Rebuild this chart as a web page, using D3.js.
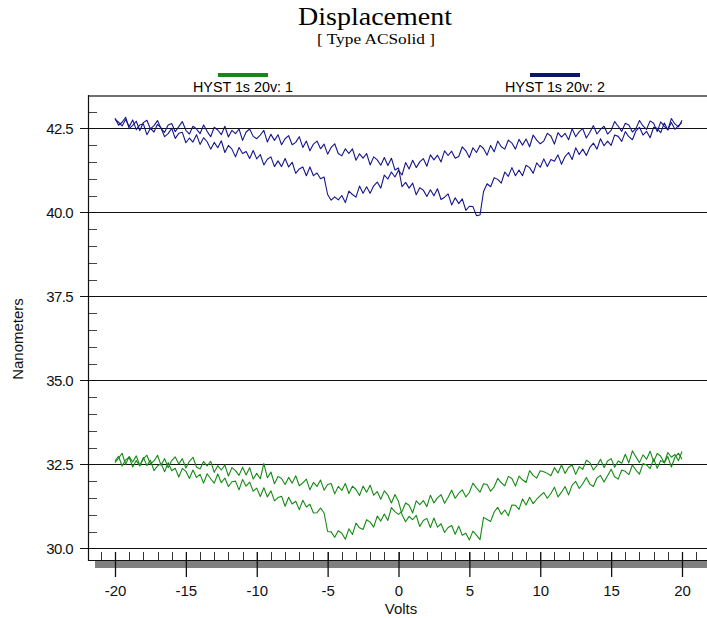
<!DOCTYPE html>
<html><head><meta charset="utf-8">
<script src="https://cdn.jsdelivr.net/npm/d3@7"></script>
<style>body{margin:0;background:#fff}svg{display:block}</style>
</head><body>
<svg id="c" width="707" height="618"></svg>
<script>
// ---------- DATA ----------
const volts = [
-20,-19.75,-19.5,-19.25,-19,-18.75,-18.5,-18.25,-18,-17.75,-17.5,-17.25,-17,-16.75,-16.5,-16.25,
-16,-15.75,-15.5,-15.25,-15,-14.75,-14.5,-14.25,-14,-13.75,-13.5,-13.25,-13,-12.75,-12.5,-12.25,
-12,-11.75,-11.5,-11.25,-11,-10.75,-10.5,-10.25,-10,-9.75,-9.5,-9.25,-9,-8.75,-8.5,-8.25,
-8,-7.75,-7.5,-7.25,-7,-6.75,-6.5,-6.25,-6,-5.75,-5.5,-5.25,-5,-4.75,-4.5,-4.25,
-4,-3.75,-3.5,-3.25,-3,-2.75,-2.5,-2.25,-2,-1.75,-1.5,-1.25,-1,-0.75,-0.5,-0.25,
0,0.25,0.5,0.75,1,1.25,1.5,1.75,2,2.25,2.5,2.75,3,3.25,3.5,3.75,
4,4.25,4.5,4.75,5,5.25,5.5,5.75,6,6.25,6.5,6.75,7,7.25,7.5,7.75,
8,8.25,8.5,8.75,9,9.25,9.5,9.75,10,10.25,10.5,10.75,11,11.25,11.5,11.75,
12,12.25,12.5,12.75,13,13.25,13.5,13.75,14,14.25,14.5,14.75,15,15.25,15.5,15.75,
16,16.25,16.5,16.75,17,17.25,17.5,17.75,18,18.25,18.5,18.75,19,19.25,19.5,19.75,20];

// HYST 1s 20v: 1 (green) - branch with dip near +5.5 V
const hyst1A = [
32.55,32.68,32.83,32.50,32.73,32.57,32.75,32.47,32.66,32.77,32.51,32.60,32.77,32.47,32.67,32.40,
32.61,32.72,32.51,32.67,32.39,32.59,32.71,32.42,32.36,32.58,32.45,32.59,32.26,32.46,32.33,32.48,
32.15,32.40,32.31,32.17,32.41,32.18,32.40,32.06,32.23,32.07,32.52,32.10,32.27,31.92,32.14,32.08,
31.90,32.11,31.94,32.16,31.86,31.95,32.06,31.74,31.96,31.84,32.03,31.73,31.90,31.93,31.62,31.84,
31.72,31.93,31.63,31.85,31.75,31.57,31.85,31.67,31.88,31.58,31.69,31.46,31.71,31.58,31.35,31.60,
31.39,31.00,30.79,30.95,30.85,30.98,30.65,30.83,30.89,30.62,30.90,30.63,30.73,30.47,30.62,30.68,
30.42,30.66,30.39,30.45,30.25,30.51,30.39,30.26,30.92,30.86,30.80,31.08,31.22,31.01,31.14,30.97,
31.29,31.28,31.16,31.47,31.29,31.52,31.33,31.46,31.57,31.66,31.49,31.63,31.82,31.53,31.67,31.84,
31.59,31.88,31.99,31.78,31.92,32.11,31.91,31.84,32.09,32.17,31.97,32.16,32.35,32.13,32.06,32.33,
32.29,32.19,32.48,32.33,32.21,32.52,32.48,32.37,32.66,32.38,32.61,32.55,32.73,32.42,32.71,32.83,32.65];

// HYST 1s 20v: 1 (green) - branch with dip near -4.5 V
const hyst1B = [
32.60,32.74,32.45,32.63,32.71,32.42,32.61,32.45,32.70,32.46,32.62,32.31,32.45,32.52,32.28,32.55,
32.31,32.38,32.12,32.38,32.29,32.08,32.33,32.11,32.20,31.94,32.22,32.07,31.94,32.21,31.95,32.09,
31.84,31.98,32.00,31.74,32.05,31.85,31.97,31.70,31.79,31.54,31.80,31.53,31.71,31.41,31.51,31.55,
31.25,31.52,31.32,31.40,31.15,31.43,31.23,31.31,31.05,31.06,31.20,31.05,30.50,30.49,30.33,30.52,
30.45,30.27,30.58,30.41,30.75,30.61,30.56,30.85,30.78,30.63,30.96,30.81,31.02,30.83,31.21,31.09,
31.01,31.10,31.35,31.28,31.05,31.41,31.30,31.42,31.24,31.58,31.35,31.50,31.60,31.34,31.52,31.73,
31.49,31.64,31.74,31.53,31.66,31.94,31.80,31.67,31.92,31.90,31.70,31.83,32.08,31.95,31.86,32.14,
32.08,31.85,32.15,32.04,31.96,32.31,32.17,32.09,32.31,32.28,32.23,32.16,32.40,32.24,32.48,32.23,
32.41,32.48,32.20,32.43,32.35,32.62,32.55,32.33,32.46,32.65,32.40,32.60,32.67,32.41,32.60,32.53,
32.80,32.54,32.90,32.72,32.55,32.78,32.65,32.89,32.58,32.82,32.74,32.54,32.85,32.71,32.79,32.61,32.88];

// HYST 1s 20v: 2 (blue) - branch with dip near +5.5 V
const hyst2A = [
42.80,42.59,42.68,42.83,42.49,42.59,42.71,42.43,42.67,42.74,42.48,42.58,42.73,42.49,42.38,42.60,
42.64,42.40,42.55,42.70,42.44,42.33,42.56,42.48,42.34,42.60,42.41,42.25,42.53,42.45,42.31,42.56,
42.24,42.44,42.34,42.48,42.14,42.39,42.48,42.26,42.19,42.30,42.44,42.09,42.32,42.14,42.31,42.01,
42.19,42.28,42.01,42.08,42.25,41.93,42.12,41.83,42.03,42.12,41.89,42.03,41.73,41.93,42.04,41.75,
41.68,41.89,41.75,41.89,41.55,41.74,41.61,41.75,41.41,41.65,41.56,41.40,41.63,41.39,41.61,41.26,
41.32,40.76,40.89,40.72,40.87,40.52,40.73,40.66,40.47,40.67,40.49,40.70,40.38,40.45,40.55,40.22,
40.43,40.26,40.40,40.06,40.18,40.17,39.90,39.92,40.62,40.85,40.76,41.03,40.98,40.87,41.20,41.07,
41.33,41.09,41.26,41.09,41.40,41.33,41.16,41.47,41.34,41.59,41.36,41.57,41.52,41.71,41.43,41.66,
41.78,41.57,41.92,41.72,41.88,41.69,41.93,42.06,41.88,42.19,41.98,42.12,41.99,42.30,42.26,42.11,
42.40,42.25,42.16,42.42,42.53,42.30,42.41,42.22,42.53,42.50,42.37,42.66,42.46,42.67,42.47,42.58,42.67];

// HYST 1s 20v: 2 (blue) - branch with dip near -4.5 V
const hyst2B = [
42.77,42.68,42.57,42.76,42.55,42.75,42.46,42.60,42.63,42.31,42.50,42.39,42.62,42.51,42.25,42.34,
42.50,42.20,42.35,42.38,42.07,42.21,42.09,42.31,42.02,42.22,42.10,41.88,42.08,41.92,42.13,41.78,
41.99,41.88,41.65,41.93,41.75,41.81,41.60,41.84,41.59,41.72,41.41,41.58,41.65,41.36,41.53,41.36,
41.60,41.35,41.49,41.16,41.29,41.35,41.09,41.35,41.09,41.17,41.00,41.05,40.53,40.36,40.46,40.37,
40.50,40.29,40.63,40.53,40.45,40.78,40.57,40.76,40.57,40.79,40.90,40.72,41.11,40.99,41.20,41.05,
41.25,41.11,41.48,41.29,41.55,41.33,41.50,41.60,41.37,41.71,41.56,41.70,41.50,41.83,41.69,41.82,
41.61,41.66,41.95,41.83,41.63,41.92,41.78,41.99,41.90,41.70,41.99,41.80,42.12,41.95,41.88,42.15,
42.06,41.88,42.17,42.00,42.18,41.95,42.30,42.15,42.04,42.12,42.35,42.27,42.03,42.37,42.24,42.35,
42.16,42.49,42.25,42.40,42.49,42.21,42.38,42.58,42.33,42.47,42.56,42.33,42.44,42.70,42.56,42.41,
42.65,42.60,42.39,42.49,42.73,42.57,42.47,42.72,42.65,42.40,42.69,42.56,42.45,42.79,42.63,42.54,42.74];

const seriesNames = ["HYST 1s 20v: 1", "HYST 1s 20v: 2"];
const xMajorTicks = [-20,-15,-10,-5,0,5,10,15,20];
const xMinorTicks = [-21,-20,-19,-18,-17,-16,-15,-14,-13,-12,-11,-10,-9,-8,-7,-6,-5,-4,-3,-2,-1,0,1,2,3,4,5,6,7,8,9,10,11,12,13,14,15,16,17,18,19,20,21];
const yMajorTicks = [30.0,32.5,35.0,37.5,40.0,42.5];
const yMinorTicks = [30.5,31,31.5,32,33,33.5,34,34.5,35.5,36,36.5,37,38,38.5,39,39.5,40.5,41,41.5,42,43];

// ---------- CHART ----------
const pL = 88, pR = 707, pT = 96, pB = 560;
const svg = d3.select("#c");
const colors = ["#148a14", "#16168a"];
const legendColors = ["#138a13", "#0c1470"];
const sans = "'Liberation Sans', Arial, sans-serif";
const serif = "'Liberation Serif', 'Times New Roman', serif";

const x = d3.scaleLinear().domain([-20, 20]).range([115, 682]);
const y = d3.scaleLinear().domain([30, 42.5]).range([548.3, 128.3]);

// title
svg.append("text").attr("x", 375).attr("y", 25).attr("text-anchor", "middle")
  .attr("font-family", serif).attr("font-size", 26)
  .attr("textLength", 154).attr("lengthAdjust", "spacingAndGlyphs")
  .text("Displacement");
svg.append("text").attr("x", 376).attr("y", 44).attr("text-anchor", "middle")
  .attr("font-family", serif).attr("font-size", 15)
  .attr("textLength", 118).attr("lengthAdjust", "spacingAndGlyphs")
  .text("[ Type ACSolid ]");

// legend
const legendX = [243, 555];
seriesNames.forEach((n, i) => {
  svg.append("line").attr("x1", legendX[i] - 25).attr("x2", legendX[i] + 25)
    .attr("y1", 75).attr("y2", 75).attr("stroke", legendColors[i]).attr("stroke-width", 4);
  svg.append("text").attr("x", legendX[i]).attr("y", 92).attr("text-anchor", "middle")
    .attr("font-family", sans).attr("font-size", 14.5)
    .attr("textLength", 100).attr("lengthAdjust", "spacingAndGlyphs")
    .text(n);
});

// top border
svg.append("line").attr("x1", pL).attr("x2", pR).attr("y1", pT).attr("y2", pT)
  .attr("stroke", "#707070").attr("stroke-width", 2);

// gridlines + major y ticks
const grid = svg.append("g");
yMajorTicks.forEach(v => {
  grid.append("line").attr("x1", 80).attr("x2", pR)
    .attr("y1", Math.round(y(v)) + 0.5).attr("y2", Math.round(y(v)) + 0.5)
    .attr("stroke", "#111").attr("stroke-width", 1);
});
// y labels
const yAxis = d3.axisLeft(y).tickValues(yMajorTicks).tickSize(0).tickPadding(0)
  .tickFormat(d3.format(".1f"));
const yg = svg.append("g").attr("transform", `translate(73,0)`).call(yAxis);
yg.select(".domain").remove();
yg.selectAll("text").attr("font-family", sans)
  .attr("font-size", 15).attr("fill", "#111").attr("letter-spacing", -0.6);

// minor y ticks
const yMinor = d3.axisRight(y).tickValues(yMinorTicks).tickSize(9).tickFormat("");
const ymg = svg.append("g").attr("transform", `translate(${pL},0)`).call(yMinor);
ymg.select(".domain").remove();
ymg.selectAll("line").attr("stroke", "#444").attr("shape-rendering", "crispEdges");

// gray shadow bar
svg.append("rect").attr("x", 95).attr("y", 561).attr("width", pR - 95).attr("height", 7)
  .attr("fill", "#808080");

// minor x ticks
const xMinor = d3.axisTop(x).tickValues(xMinorTicks).tickSize(8).tickFormat("");
const xmg = svg.append("g").attr("transform", `translate(0,${pB})`).call(xMinor);
xmg.select(".domain").remove();
xmg.selectAll("line").attr("stroke", "#333").attr("shape-rendering", "crispEdges");

// major x ticks with labels (plain hyphen minus, as in the reference)
const xAxis = d3.axisBottom(x).tickValues(xMajorTicks).tickSize(25).tickPadding(8)
  .tickFormat(d => String(d));
const xg = svg.append("g").attr("transform", `translate(0,552)`).call(xAxis);
xg.select(".domain").remove();
xg.selectAll("line").attr("stroke", "#111").attr("stroke-width", 1.3);
xg.selectAll("text").attr("font-family", sans)
  .attr("font-size", 15).attr("fill", "#111");

// axis frame lines
svg.append("line").attr("x1", pL + 0.5).attr("x2", pL + 0.5).attr("y1", pT - 1).attr("y2", pB + 1)
  .attr("stroke", "#111").attr("stroke-width", 1.2);
svg.append("line").attr("x1", pL).attr("x2", pR).attr("y1", pB + 0.5).attr("y2", pB + 0.5)
  .attr("stroke", "#111").attr("stroke-width", 1.2);

// axis titles
svg.append("text").attr("x", 401).attr("y", 614).attr("text-anchor", "middle")
  .attr("font-family", sans).attr("font-size", 15)
  .attr("fill", "#111").text("Volts");
svg.append("text").attr("transform", "translate(23,339) rotate(-90)").attr("text-anchor", "middle")
  .attr("font-family", sans).attr("font-size", 15)
  .attr("fill", "#111").text("Nanometers");

// curves
const line = d3.line().x((d, i) => x(volts[i])).y(d => y(d));
const curves = [[hyst1A, 0], [hyst1B, 0], [hyst2A, 1], [hyst2B, 1]];
curves.forEach(([vals, ci]) => {
  svg.append("path").datum(vals).attr("d", line).attr("fill", "none")
    .attr("stroke", colors[ci]).attr("stroke-width", 1.1).attr("stroke-linejoin", "round");
});
</script>
</body></html>
